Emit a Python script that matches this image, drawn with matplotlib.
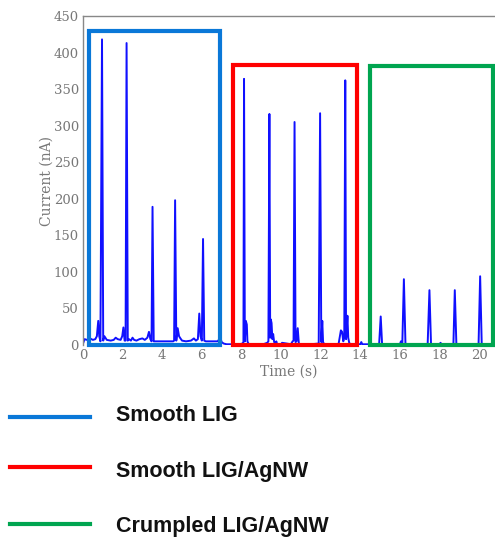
import numpy as np
import matplotlib
matplotlib.use("Agg")
import matplotlib.pyplot as plt
from matplotlib.patches import Rectangle

# trace vertices (time in s, current in nA)
t_smooth = [0.0, 0.08, 0.2, 0.35, 0.5, 0.62, 0.7, 0.77, 0.82, 0.88, 0.96, 1.02, 1.08, 1.2,
            1.4, 1.55, 1.65, 1.75, 1.9, 1.98, 2.04, 2.1, 2.15, 2.2, 2.26, 2.32, 2.42, 2.5,
            2.58, 2.7, 2.85, 3.0, 3.12, 3.25, 3.33, 3.4, 3.46, 3.51, 3.57, 3.7, 4.0, 4.3,
            4.55, 4.6, 4.65, 4.71, 4.78, 4.85, 4.92, 5.0, 5.2, 5.45, 5.6, 5.7, 5.8, 5.87,
            5.93, 6.0, 6.06, 6.12, 6.2, 6.5, 6.8, 6.88, 6.93, 7.0, 7.1, 7.25]
i_smooth = [2, 8, 7, 9, 7, 8, 12, 33, 12, 5, 418, 6, 12, 7,
            6, 7, 10, 8, 7, 12, 24, 6, 6, 413, 6, 8, 6, 10,
            7, 6, 8, 9, 7, 10, 18, 8, 5, 189, 5, 5, 5, 5,
            5, 6, 198, 6, 23, 12, 9, 6, 5, 6, 9, 6, 8, 43,
            12, 6, 145, 6, 5, 5, 5, 8, 10, 4, 2, 1]

t_agnw = [7.25, 7.9, 8.05, 8.1, 8.13, 8.17, 8.22, 8.27, 8.3, 8.35, 8.4, 9.1, 9.3, 9.36,
          9.41, 9.45, 9.48, 9.52, 9.56, 9.6, 9.65, 9.72, 9.76, 9.8, 10.0, 10.05, 10.5,
          10.58, 10.63, 10.68, 10.73, 10.78, 10.84, 10.9, 11.5, 11.9, 11.97, 12.03, 12.08,
          12.12, 12.18, 12.9, 13.02, 13.08, 13.14, 13.19, 13.24, 13.28, 13.31, 13.35,
          13.39, 13.44, 13.5, 14.0, 14.05]
i_agnw = [1, 1, 2, 4, 364, 5, 33, 28, 5, 2, 1, 1, 3, 5,
          316, 10, 35, 30, 8, 15, 4, 2, 5, 1, 1, 3, 1,
          5, 6, 305, 4, 5, 23, 1, 1, 2, 317, 4, 33, 4, 1, 1, 20, 18, 5, 10,
          362, 8, 20, 40, 10, 3, 1, 1, 4]

t_crumpled = [14.1, 14.6, 14.95, 15.03, 15.1, 15.5, 16.0, 16.05, 16.12, 16.2, 16.28,
              16.8, 17.4, 17.49, 17.57, 18.0, 18.05, 18.1, 18.7, 18.77, 18.85, 19.4,
              19.97, 20.05, 20.13, 20.8]
i_crumpled = [1, 1, 1, 39, 1, 1, 1, 5, 1, 90, 1,
              1, 1, 75, 1, 1, 3, 1, 1, 75, 1, 1,
              1, 94, 1, 1]

# boxes around each sample group: (x0, x1, top)
box_x0 = [0.3, 7.58, 14.5]
box_x1 = [6.9, 13.84, 20.7]
box_top = [430, 383, 381]
box_colors = ["#0a78d8", "#ff0000", "#00a550"]
labels = ["Smooth LIG", "Smooth LIG/AgNW", "Crumpled LIG/AgNW"]

fig = plt.figure(figsize=(4.95, 5.37), dpi=100)
ax = fig.add_axes([83 / 495, 192 / 537, 412 / 495, 329 / 537])

t_all = t_smooth + t_agnw + t_crumpled
i_all = i_smooth + i_agnw + i_crumpled
ax.plot(t_all, i_all, color="#1010ff", lw=1.4, zorder=2)

for x0, x1, top, c in zip(box_x0, box_x1, box_top, box_colors):
    ax.add_patch(Rectangle((x0, 0), x1 - x0, top, fill=False, edgecolor=c,
                           lw=3, zorder=3, clip_on=False))

ax.set_xlim(0, 20.8)
ax.set_ylim(0, 450)
ax.set_xticks(range(0, 21, 2))
ax.set_yticks(range(0, 451, 50))
for s in ["right", "bottom"]:
    ax.spines[s].set_visible(False)
for s in ["left", "top"]:
    ax.spines[s].set_color("#888888")
    ax.spines[s].set_linewidth(1.0)
ax.tick_params(length=0, labelsize=9.5, labelcolor="#777777", pad=3)
for lab in ax.get_xticklabels() + ax.get_yticklabels():
    lab.set_family("DejaVu Serif")
ax.set_xlabel("Time (s)", family="DejaVu Serif", color="#777777", fontsize=10, labelpad=2)
ax.set_ylabel("Current (nA)", family="DejaVu Serif", color="#777777", fontsize=10, labelpad=0)

# legend drawn under the axes
leg_y = [417, 467, 524]
text_base = [421, 477, 532]
for y, yb, c, lab in zip(leg_y, text_base, box_colors, labels):
    yf = 1 - y / 537
    fig.add_artist(plt.Line2D([10 / 495, 90 / 495], [yf, yf], color=c, lw=3))
    fig.text(116 / 495, 1 - yb / 537, lab, family="Liberation Sans", weight="bold",
             fontsize=15.5, va="baseline", ha="left", color="#111111")

fig.savefig("out.png", dpi=100)
